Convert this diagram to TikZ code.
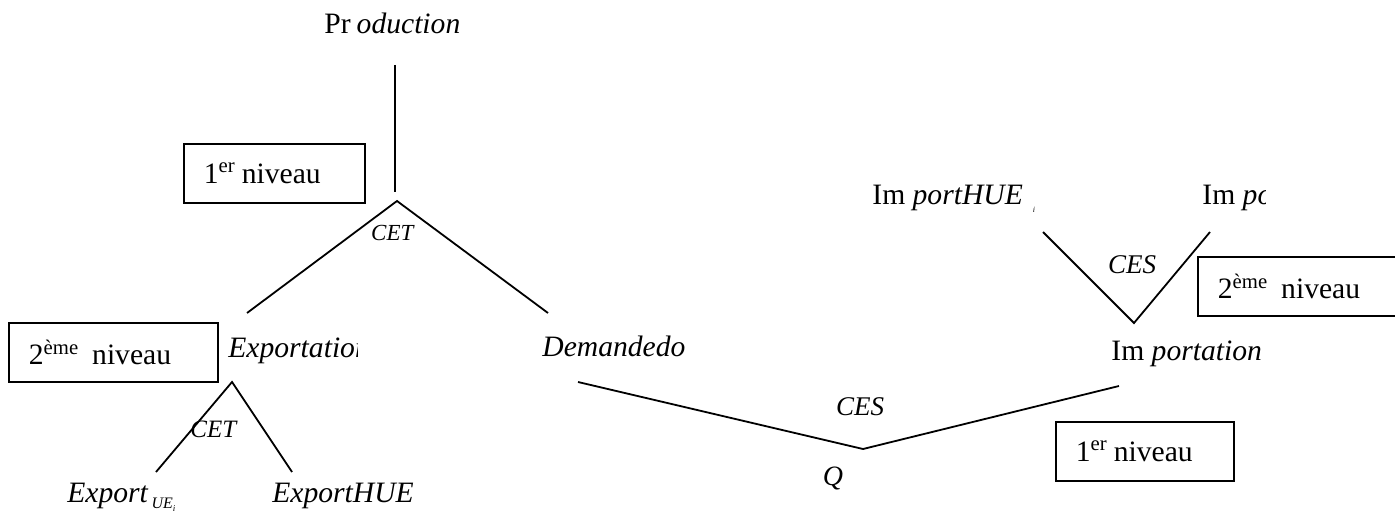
\documentclass[tikz,border=0pt]{standalone}
\usepackage{fontspec}
\setmainfont{Liberation Serif}
\begin{document}
\begin{tikzpicture}[x=0.5pt, y=-0.5pt,
    every node/.style={font=\fontsize{14.8}{17}\selectfont, inner sep=0pt},
    word/.style={anchor=base west},
    levelbox/.style={draw, line width=0.9pt, anchor=north west, minimum height=29.5pt, inner xsep=10pt, align=left},
    branch/.style={line width=0.9pt}]
    \useasboundingbox (0,0) rectangle (1395,518);

    % Production (top)
    \node[word] (prod) at (324,34) {Pr\hspace{3pt}\textit{oduction}};
    \coordinate (stemTop) at (395,65);
    \coordinate (stemEnd) at (395,192);
    \draw[branch] (stemTop) -- (stemEnd);
    \node[levelbox, text width=70.5pt] (boxA) at (183,143) {1\textsuperscript{er}\hspace{3pt}niveau};

    % CET: exportation / demande
    \coordinate (cetA) at (397,201);
    \coordinate (cetAl) at (247,313);
    \coordinate (cetAr) at (548,313);
    \draw[branch] (cetAl) -- (cetA) -- (cetAr);
    \node[font=\fontsize{11.5}{13}\selectfont] (cetAlab) at (393,233) {\textit{CET}};

    \begin{scope}
        \clip (220,320) rectangle (357,380);
        \node[word] (expo) at (228,357) {\textit{Exportation}};
    \end{scope}
    \node[levelbox, text width=84.5pt] (boxB) at (8,322) {2\textsuperscript{ème}\hspace{6.5pt}niveau};
    \node[word] (dem) at (542,356) {\textit{Demandedo}};

    % CET: exportations UE / HUE
    \coordinate (cetB) at (232,382);
    \coordinate (cetBl) at (156,472);
    \coordinate (cetBr) at (292,472);
    \draw[branch] (cetBl) -- (cetB) -- (cetBr);
    \node[font=\fontsize{12.5}{14}\selectfont] (cetBlab) at (214,429) {\textit{CET}};
    \node[word] (expUE) at (67,502) {\textit{Export}\hspace{1.5pt}\raisebox{-3pt}{\fontsize{8}{9}\selectfont\textit{UE}\raisebox{-1.5pt}{\fontsize{4.5}{5}\selectfont\textit{i}}}};
    \node[word] (expHUE) at (272,502) {\textit{ExportHUE}};

    % CES: demande / importation
    \coordinate (qTop) at (863,449);
    \coordinate (qL) at (578,382);
    \coordinate (qR) at (1119,386);
    \draw[branch] (qL) -- (qTop) -- (qR);
    \node[font=\fontsize{13.5}{15}\selectfont] (cesQ) at (860,407) {\textit{CES}};
    \node[font=\fontsize{14}{16}\selectfont] (q) at (833,478) {\textit{Q}};
    \node[word] (imp) at (1111,360) {Im \textit{portation}};
    \node[levelbox, text width=69pt] (boxC) at (1055,421) {1\textsuperscript{er}\hspace{3pt}niveau};

    % CES: importations HUE / UE
    \coordinate (cesI) at (1134,323);
    \coordinate (cesIl) at (1043,232);
    \coordinate (cesIr) at (1210,232);
    \draw[branch] (cesIl) -- (cesI) -- (cesIr);
    \node[font=\fontsize{13.5}{15}\selectfont] (cesIlab) at (1132,265) {\textit{CES}};
    \node[levelbox, text width=87.5pt] (boxD) at (1197,256) {2\textsuperscript{ème}\hspace{6.5pt}niveau};
    \node[word] (impHUE) at (872,205) {Im \textit{portHUE}\hspace{5pt}\raisebox{-4pt}{\fontsize{4}{4}\selectfont\textit{i}}};
    \begin{scope}
        \clip (1190,170) rectangle (1265,225);
        \node[word] (impUE) at (1202,205) {Im \textit{po}};
    \end{scope}
\end{tikzpicture}
\end{document}
